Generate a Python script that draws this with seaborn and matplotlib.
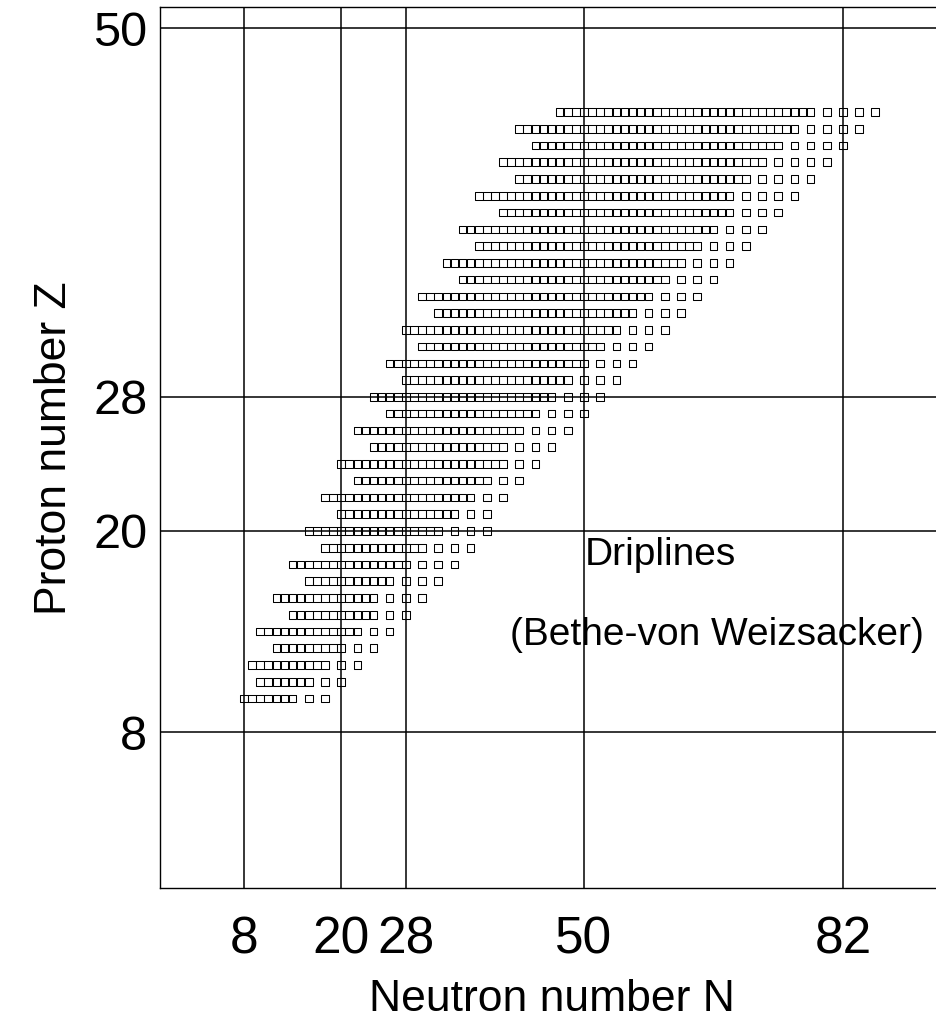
import numpy as np
import pandas as pd
import matplotlib
matplotlib.use("Agg")
import matplotlib.pyplot as plt
import seaborn as sns

# ---- data ----
proton_z = [10, 11, 12, 13, 14, 15, 16, 17, 18, 19, 20, 21, 22, 23, 24, 25, 26, 27,
            28, 29, 30, 31, 32, 33, 34, 35, 36, 37, 38, 39, 40, 41, 42, 43, 44, 45]
# first and last neutron number of the contiguous bound block in each row
block_first_n = [8, 10, 9, 12, 10, 14, 12, 16, 14, 18, 16, 20, 18, 22, 20, 24, 22, 26,
                 24, 28, 26, 30, 28, 32, 30, 35, 33, 37, 35, 40, 37, 42, 40, 44, 42, 47]
block_last_n = [14, 16, 18, 20, 22, 24, 24, 26, 28, 30, 32, 34, 36, 38, 40, 40, 42, 44,
                46, 48, 50, 52, 54, 56, 58, 60, 62, 64, 66, 68, 68, 70, 72, 74, 76, 78]
# isolated (even-N) bound nuclei beyond the block
tail_n = [[16, 18], [18, 20], [20, 22], [22, 24], [24, 26], [26, 28], [26, 28, 30],
          [28, 30, 32], [30, 32, 34], [32, 34, 36], [34, 36, 38], [36, 38], [38, 40],
          [40, 42], [42, 44], [42, 44, 46], [44, 46, 48], [46, 48, 50], [48, 50, 52],
          [50, 52, 54], [52, 54, 56], [54, 56, 58], [56, 58, 60], [58, 60, 62],
          [60, 62, 64], [62, 64, 66], [64, 66, 68], [66, 68, 70], [68, 70, 72],
          [70, 72, 74], [70, 72, 74, 76], [72, 74, 76, 78], [74, 76, 78, 80],
          [76, 78, 80, 82], [78, 80, 82, 84], [80, 82, 84, 86]]

magic_n = [8, 20, 28, 50, 82]
magic_z = [8, 20, 28, 50]

x_label = "Neutron number N"
y_label = "Proton number Z"
note_1 = "Driplines"
note_2 = "(Bethe-von Weizsacker)"

# ---- long table of nuclei ----
rows = []
for z, n0, n1, tail in zip(proton_z, block_first_n, block_last_n, tail_n):
    for n in range(n0, n1 + 1):
        rows.append((n, z))
    for n in tail:
        rows.append((n, z))
df = pd.DataFrame(rows, columns=["N", "Z"])

# ---- style ----
sns.set_style("white")
regular = ["Liberation Sans", "DejaVu Sans"]
plt.rcParams["font.family"] = regular
for key in ["text.color", "axes.labelcolor", "xtick.color", "ytick.color"]:
    plt.rcParams[key] = "black"

W, H = 936, 1021
fig = plt.figure(figsize=(W / 100, H / 100), dpi=100)
ax = fig.add_axes([160 / W, 133.3 / H, (W - 160) / W, 880.4 / H])

sns.scatterplot(data=df, x="N", y="Z", ax=ax, marker="s", s=30,
                color="black", facecolors="none", edgecolor="black",
                linewidth=0.75, zorder=3, legend=False)

ax.set_xlim(-2.38, 93.5)
ax.set_ylim(-1.29, 51.25)
ax.set_xticks(magic_n)
ax.set_yticks(magic_z)
ax.set_xticklabels([str(v) for v in magic_n], fontsize=37)
ax.set_yticklabels([str(v) for v in magic_z], fontsize=35)
ax.tick_params(axis="x", length=0, pad=20, colors="black")
ax.tick_params(axis="y", length=0, pad=9, colors="black")
ax.set_axisbelow(True)
ax.grid(True, color="black", linewidth=1.1)

for side in ["left", "bottom", "top"]:
    ax.spines[side].set_color("black")
    ax.spines[side].set_linewidth(1.0)
ax.spines["right"].set_visible(False)

ax.set_xlabel(x_label, fontsize=32, color="black")
ax.xaxis.set_label_coords(0.505, -0.1395)
ax.xaxis.label.set_va("baseline")
ax.set_ylabel(y_label, fontsize=32, color="black")
ax.yaxis.set_label_coords(-0.1211, 0.499)
ax.yaxis.label.set_va("baseline")

ax.text(50.1, 17.97, note_1, fontsize=28, color="black", ha="left", va="baseline")
ax.text(40.85, 13.19, note_2, fontsize=28, color="black", ha="left", va="baseline")

fig.savefig("out.png", dpi=100)
